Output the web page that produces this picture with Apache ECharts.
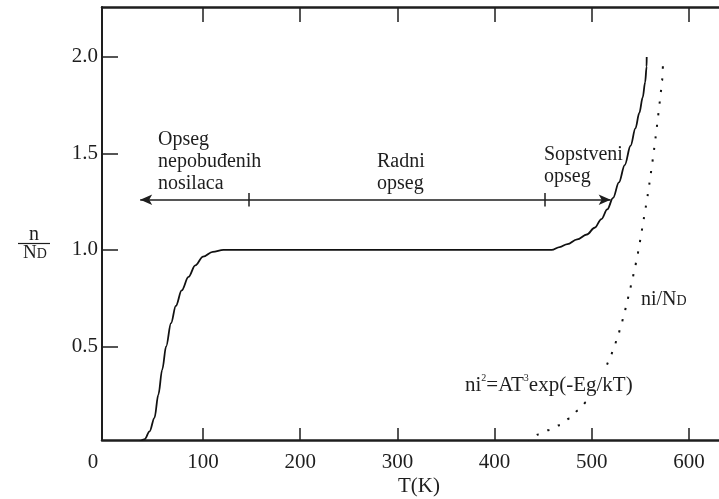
<!DOCTYPE html>
<html>
<head>
<meta charset="utf-8">
<script src="https://cdn.jsdelivr.net/npm/echarts@6/dist/echarts.min.js"></script>
<style>html,body{margin:0;padding:0;background:#fff}#c{width:719px;height:499px}</style>
</head>
<body>
<div id="c"></div>
<script>
// ---- data ----
const xTickValues = [100, 200, 300, 400, 500, 600];
const xLabelValues = [0, 100, 200, 300, 400, 500, 600];
const yTickValues = [0.5, 1.0, 1.5, 2.0];
const yTickLabels = ['0.5', '1.0', '1.5', '2.0'];

// n/ND curve (solid)
const nT = [33.5, 40, 45, 50, 54, 58, 62, 67, 72, 78, 85, 92, 100, 110, 121, 458.8, 467, 475, 485, 495, 503, 510, 516, 522, 528, 534, 540, 545, 549, 552.5, 555, 556.5, 556.6];
const nV = [0, 0.02, 0.06, 0.13, 0.25, 0.38, 0.5, 0.62, 0.71, 0.79, 0.86, 0.92, 0.965, 0.99, 1.0, 1.0, 1.015, 1.03, 1.055, 1.08, 1.115, 1.16, 1.21, 1.27, 1.35, 1.44, 1.54, 1.63, 1.71, 1.79, 1.87, 1.95, 2.0];

// ni/ND curve (dotted)
const niT = [434.5, 445, 455.5, 467, 477.5, 486.5, 495, 504, 512, 518, 522.5, 526.5, 530, 533.2, 536, 538.8, 541.6, 544.3, 546.8, 549, 551, 553, 555, 557, 558.8, 560.5, 562.2, 563.8, 565.3, 566.8, 568.2, 569.6, 571, 572.4, 573.6];
const niV = [0, 0.044, 0.066, 0.092, 0.127, 0.17, 0.213, 0.29, 0.36, 0.425, 0.485, 0.545, 0.602, 0.662, 0.72, 0.78, 0.843, 0.905, 0.965, 1.026, 1.087, 1.148, 1.208, 1.268, 1.329, 1.39, 1.45, 1.51, 1.571, 1.632, 1.693, 1.755, 1.817, 1.878, 2.0];

// range arrow
const arrowT = [35.3, 519.5];
const arrowLevel = 1.26;
const dividerT = [147.4, 451.6];
const dividerHalf = 0.035;

const FONT = "'Liberation Serif', 'Times New Roman', serif";
const INK = '#1e1e1e';

const zip = (a, b) => a.map((v, i) => [v, b[i]]);

const markData = [
  [{ coord: [arrowT[0], arrowLevel] }, { coord: [arrowT[1], arrowLevel] }]
].concat(dividerT.map(t => [
  { coord: [t, arrowLevel - dividerHalf], symbol: 'none' },
  { coord: [t, arrowLevel + dividerHalf], symbol: 'none' }
]));

const chart = echarts.init(document.getElementById('c'), null, { renderer: 'canvas' });
chart.setOption({
  backgroundColor: '#fff',
  animation: false,
  grid: { left: 102, right: 0, top: 7, bottom: 59, containLabel: false, outerBoundsMode: 'none' },
  xAxis: [{
    type: 'value', position: 'bottom', min: -4, max: 631,
    splitLine: { show: false },
    axisLine: { show: true, onZero: false, lineStyle: { color: INK, width: 2.5 } },
    axisTick: { show: true, inside: true, length: 12, customValues: xTickValues, lineStyle: { color: INK, width: 1.5 } },
    axisLabel: {
      show: true, customValues: xLabelValues, margin: 12, color: INK, fontSize: 21, fontFamily: FONT,
      formatter: v => v === 0 ? '{o|0}' : String(v),
      rich: { o: { padding: [0, 26, 0, 0], fontSize: 21, fontFamily: FONT, color: INK } }
    }
  }, {
    type: 'value', position: 'top', min: -4, max: 631,
    splitLine: { show: false },
    axisLine: { show: true, onZero: false, lineStyle: { color: INK, width: 2.5 } },
    axisTick: { show: true, inside: true, length: 15, customValues: xTickValues, lineStyle: { color: INK, width: 1.5 } },
    axisLabel: { show: false }
  }],
  yAxis: {
    type: 'value', min: 0.015, max: 2.259,
    splitLine: { show: false },
    axisLine: { show: true, onZero: false, lineStyle: { color: INK, width: 2 } },
    axisTick: { show: true, inside: true, length: 16, customValues: yTickValues, lineStyle: { color: INK, width: 1.5 } },
    axisLabel: {
      show: true, customValues: yTickValues, margin: 4, color: INK, fontSize: 21, fontFamily: FONT,
      formatter: v => yTickLabels[yTickValues.findIndex(t => Math.abs(t - v) < 1e-6)]
    }
  },
  series: [{
    name: 'n/ND', type: 'line', xAxisIndex: 0, data: zip(nT, nV),
    symbol: 'none', smooth: 0.35, smoothMonotone: 'x', clip: true,
    lineStyle: { color: '#111', width: 1.8 },
    markLine: {
      silent: true, animation: false,
      symbol: ['arrow', 'arrow'], symbolSize: [8, 12],
      label: { show: false },
      lineStyle: { color: INK, width: 1.5, type: 'solid' },
      emphasis: { disabled: true },
      data: markData
    }
  }, {
    name: 'ni/ND', type: 'line', xAxisIndex: 0, data: zip(niT, niV),
    symbol: 'none', smooth: 0.35, smoothMonotone: 'x', clip: true,
    lineStyle: { color: '#111', width: 2, type: [2.2, 9.5] }
  }],
  graphic: [
    { type: 'text', z: 100, left: 158, top: 129, style: { text: 'Opseg\nnepobuđenih\nnosilaca', font: '20px ' + FONT, lineHeight: 22, fill: INK } },
    { type: 'text', z: 100, left: 377, top: 151, style: { text: 'Radni\nopseg', font: '20px ' + FONT, lineHeight: 22, fill: INK } },
    { type: 'text', z: 100, left: 544, top: 144, style: { text: 'Sopstveni\nopseg', font: '20px ' + FONT, lineHeight: 22, fill: INK } },
    { type: 'text', z: 100, left: 641, top: 290, style: {
      text: '{a|ni/N}{b|D}', fill: INK,
      rich: { a: { fontSize: 20, fontFamily: FONT, color: INK }, b: { fontSize: 14, fontFamily: FONT, color: INK, padding: [3, 0, 0, 0] } }
    } },
    { type: 'text', z: 100, left: 463, top: 372, style: {
      text: '{a|ni}{s|2}{a|=AT}{s|3}{a|exp(-Eg/kT)}', backgroundColor: '#fff', fill: INK, padding: [1, 2, 1, 2],
      rich: { a: { fontSize: 21, fontFamily: FONT, color: INK, lineHeight: 24 }, s: { fontSize: 10, fontFamily: FONT, color: INK, verticalAlign: 'top', lineHeight: 24 } }
    } },
    { type: 'text', z: 100, left: 398, top: 476, style: { text: 'T(K)', font: '21px ' + FONT, fill: INK } },
    { type: 'text', z: 100, x: 34, y: 235, style: { text: 'n', font: '20px ' + FONT, fill: INK, align: 'center', verticalAlign: 'middle' } },
    { type: 'line', z: 100, shape: { x1: 18, y1: 243.5, x2: 50, y2: 243.5 }, style: { stroke: INK, lineWidth: 1.2 } },
    { type: 'text', z: 100, x: 35, y: 253, style: {
      text: '{a|N}{b|D}', align: 'center', verticalAlign: 'middle', fill: INK,
      rich: { a: { fontSize: 19, fontFamily: FONT, color: INK }, b: { fontSize: 14, fontFamily: FONT, color: INK, padding: [3, 0, 0, 0] } }
    } }
  ]
});
</script>
</body>
</html>
